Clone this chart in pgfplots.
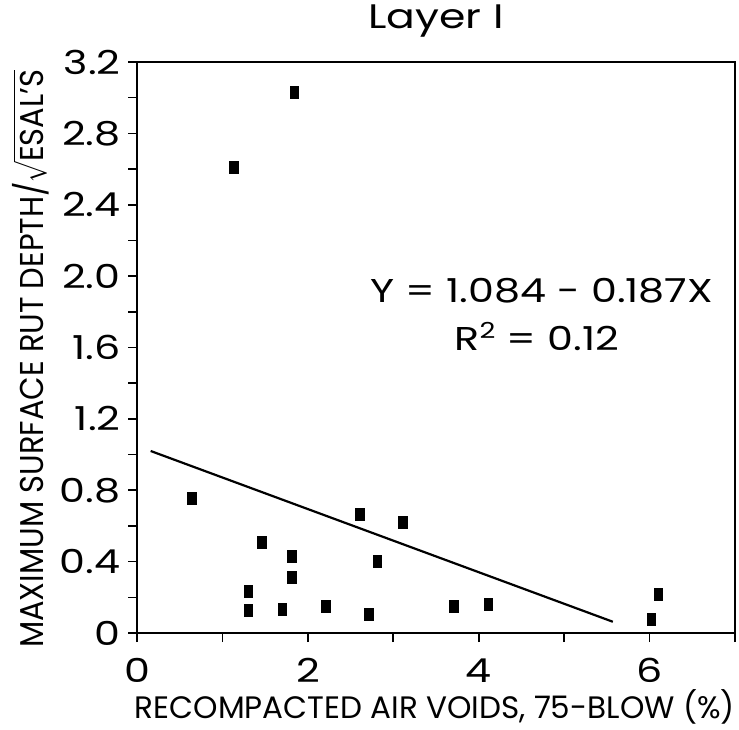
\RequirePackage{fix-cm}
\documentclass[border=0pt]{standalone}
\usepackage{pgfplots}
\pgfplotsset{compat=1.18}
\usepackage{pgfplotstable}
\usepackage{graphicx}
\usepackage{fontspec}
\setmainfont{Poppins}[FakeStretch=1.25]

\pgfplotstableread{
x y
0.64 0.755
1.13 2.61
1.84 3.03
1.30 0.233
1.30 0.13
1.46 0.508
1.70 0.134
1.81 0.43
1.81 0.314
2.21 0.153
2.61 0.666
2.71 0.108
2.81 0.40
3.11 0.623
3.71 0.153
4.11 0.162
6.02 0.08
6.10 0.216
}\datatable

\pgfplotstableread{
x y
0.16 1.02
5.57 0.063
}\fittable

\begin{document}
\begin{tikzpicture}
\begin{axis}[
  scale only axis,
  width=598pt, height=571pt,
  xmin=0, xmax=7, ymin=0, ymax=3.2,
  axis line style={line width=2pt},
  every tick/.style={line width=1.6pt, black},
  tick align=outside,
  xtick pos=bottom, ytick pos=left,
  major tick length=9pt, minor tick length=9pt,
  xtick={0,2,4,6}, xticklabels={0,2,4,6},
  minor xtick={1,3,5,7},
  ytick={0,0.4,...,3.2},
  yticklabels={0,0.4,0.8,1.2,1.6,2.0,2.4,2.8,3.2},
  minor ytick={0.2,0.6,...,3.0},
  /pgf/number format/assume math mode=true,
  ticklabel style={font=\fontsize{33}{40}\selectfont},
  xticklabel style={yshift=-13pt},
  yticklabel style={xshift=-4pt},
  xlabel={\resizebox{600pt}{\height}{RECOMPACTED AIR VOIDS, 75-BLOW (\%)}},
  xlabel style={font=\fontsize{31}{38}\selectfont, at={(axis description cs:0.498,-0.1489)}, anchor=base},
  ylabel={\resizebox{578pt}{\height}{MAXIMUM SURFACE RUT DEPTH/\smash{$\sqrt{\mbox{ESAL'S}}$}}},
  ylabel style={font=\fontsize{33}{40}\selectfont, at={(axis description cs:-0.157,0.48)}, anchor=base},
  title={Layer I},
  title style={font=\fontsize{34}{40}\selectfont, at={(axis description cs:0.5,1.0473)}, anchor=base},
]
\addplot[only marks, mark=square*, mark size=6pt, mark options={xscale=0.72, fill=black, draw=none}] table[x=x,y=y] {\datatable};
\addplot[no marks, line width=2.2pt, black] table[x=x,y=y] {\fittable};
\node[font=\fontsize{33}{40}\selectfont, anchor=center] at (axis cs:4.74,1.92) {Y = 1.084 - 0.187X};
\node[font=\fontsize{33}{40}\selectfont, anchor=center] at (axis cs:4.68,1.66) {R$^{\mbox{\fontsize{22}{26}\selectfont 2}}$ = 0.12};
\end{axis}
\pgfresetboundingbox
\path[use as bounding box] (current axis.south west) ++(-137pt,-96pt) rectangle ([xshift=4pt,yshift=62pt]current axis.north east);
\end{tikzpicture}
\end{document}
